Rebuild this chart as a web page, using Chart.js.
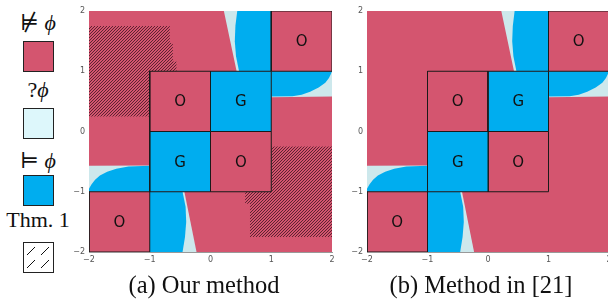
<!DOCTYPE html>
<html>
<head>
<meta charset="utf-8">
<script src="https://cdn.jsdelivr.net/npm/chart.js"></script>
<style>
  html, body { margin: 0; padding: 0; background: #fff; overflow: hidden; }
  body { position: relative; width: 608px; height: 302px; }
  canvas.plot { position: absolute; top: 0; }
  .leg { position: absolute; left: 0; width: 76px; text-align: center; font-family: "Liberation Serif", "DejaVu Serif", serif; font-size: 22px; line-height: 22px; color: #111; }
  .phi { font-style: italic; }
  .sw { position: absolute; left: 23px; width: 29px; height: 29px; border: 1px solid #222; }
  .cap { position: absolute; top: 271px; font-family: "Liberation Serif", "DejaVu Serif", serif; font-size: 24.5px; line-height: 28px; color: #111; white-space: nowrap; transform: translateX(-50%); }
</style>
</head>
<body>
<div class="leg" style="top:12px">⊭ <span class="phi">ϕ</span></div>
<div class="sw" style="top:41px;background:#d4556f"></div>
<div class="leg" style="top:79px">?<span class="phi">ϕ</span></div>
<div class="sw" style="top:108px;background:#ddf7fb"></div>
<div class="leg" style="top:150px">⊨ <span class="phi">ϕ</span></div>
<div class="sw" style="top:175px;background:#00adef"></div>
<div class="leg" style="top:209px">Thm. 1</div>
<div class="sw" style="top:242px;background:#fff">
  <svg width="29" height="29" style="position:absolute;left:0;top:0">
    <g stroke="#111" stroke-width="1">
      <line x1="3" y1="12" x2="11" y2="4"/><line x1="17" y1="12" x2="25" y2="4"/>
      <line x1="3" y1="25" x2="11" y2="17"/><line x1="17" y1="25" x2="25" y2="17"/>
    </g>
  </svg>
</div>

<canvas id="chartA" class="plot" width="268" height="272" style="left:70px"></canvas>
<canvas id="chartB" class="plot" width="267" height="272" style="left:348px"></canvas>

<div class="cap" style="left:204px">(a) Our method</div>
<div class="cap" style="left:481px">(b) Method in [21]</div>

<script>
const RED = '#d4556f', BLUE = '#00adef', CYAN = '#cde8ec';

const axisTicks = [-2, -1, 0, 1, 2];
const fullSquare = [[-2, -2], [2, -2], [2, 2], [-2, 2]];

// unit boxes, lower-left corners
const oBoxes = [[1, 1], [-1, 0], [0, -1], [-2, -2]];
const gBoxes = [[0, 0], [-1, -1]];

// undecided slivers (light cyan) and satisfied regions (blue)
const topCyan = [[0.22, 2], [1, 2], [1, 1], [0.43, 1]];
const topBlue = [[0.44, 2], [0.41, 1.75], [0.40, 1.5], [0.42, 1.25], [0.47, 1], [1, 1], [1, 2]];
const rightCyan = [[1, 1], [1, 0.57], [2, 0.58], [2, 1]];
const rightBlue = [[1, 1], [1, 0.58], [1.35, 0.585], [1.5, 0.61], [1.64, 0.66], [1.78, 0.73],
                   [1.89, 0.81], [1.95, 0.89], [1.98, 0.95], [2, 1]];
const leftCyan = [[-1, -1], [-1, -0.565], [-2, -0.57], [-2, -1]];
const leftBlue = [[-1, -1], [-1, -0.57], [-1.35, -0.58], [-1.55, -0.62], [-1.7, -0.67], [-1.82, -0.73],
                  [-1.9, -0.8], [-1.96, -0.88], [-2, -0.95], [-2, -1]];
const bottomCyan = [[-1, -1], [-0.43, -1], [-0.23, -2], [-1, -2]];
const bottomBlue = [[-1, -1], [-0.46, -1], [-0.41, -1.25], [-0.40, -1.5], [-0.42, -1.75], [-0.46, -2], [-1, -2]];

// Thm. 1 hatched regions (left plot only)
const hatchTopLeft = [[-2, 1.75], [-0.67, 1.75], [-0.67, 1.47], [-0.62, 1.47], [-0.62, 1.16],
                      [-0.56, 1.16], [-0.56, 0.25], [-2, 0.25]];
const hatchBottomRight = [[2, -1.75], [0.65, -1.75], [0.65, -1.2], [0.57, -1.2], [0.57, -0.25], [2, -0.25]];

function hatchPattern() {
  const c = document.createElement('canvas');
  c.width = 3; c.height = 3;
  const g = c.getContext('2d');
  g.strokeStyle = 'rgba(55,20,30,0.85)';
  g.lineWidth = 0.9;
  g.beginPath();
  g.moveTo(-1, 4); g.lineTo(4, -1);
  g.moveTo(-1, 1); g.lineTo(1, -1);
  g.moveTo(2, 4); g.lineTo(4, 2);
  g.stroke();
  return g.createPattern(c, 'repeat');
}

function poly(pts, color, border) {
  const data = pts.map(p => ({x: p[0], y: p[1]}));
  if (border) data.push({x: pts[0][0], y: pts[0][1]});
  return {
    data, showLine: true, fill: 'shape', tension: 0,
    backgroundColor: color,
    borderColor: border || 'rgba(0,0,0,0)',
    borderWidth: border ? 1 : 0,
    pointRadius: 0, pointHoverRadius: 0
  };
}

function box(c) {
  const [x, y] = c;
  return [[x, y], [x + 1, y], [x + 1, y + 1], [x, y + 1]];
}

const boxText = {
  id: 'boxText',
  afterDatasetsDraw(chart) {
    const {ctx, scales: {x, y}} = chart;
    ctx.save();
    ctx.font = '15px "DejaVu Sans"';
    ctx.fillStyle = '#111';
    ctx.textAlign = 'center';
    ctx.textBaseline = 'middle';
    oBoxes.forEach(b => ctx.fillText('O', x.getPixelForValue(b[0] + 0.5), y.getPixelForValue(b[1] + 0.5) + 1));
    gBoxes.forEach(b => ctx.fillText('G', x.getPixelForValue(b[0] + 0.5), y.getPixelForValue(b[1] + 0.5) + 1));
    ctx.restore();
  }
};

function makeChart(id, withHatch) {
  const layers = [
    poly(fullSquare, RED),
    poly(topCyan, CYAN), poly(rightCyan, CYAN), poly(leftCyan, CYAN), poly(bottomCyan, CYAN),
    poly(topBlue, BLUE), poly(rightBlue, BLUE), poly(leftBlue, BLUE), poly(bottomBlue, BLUE)
  ];
  if (withHatch) {
    const pat = hatchPattern();
    layers.push(poly(hatchTopLeft, pat), poly(hatchBottomRight, pat));
  }
  oBoxes.forEach(b => layers.push(poly(box(b), RED, '#1a1a1a')));
  gBoxes.forEach(b => layers.push(poly(box(b), BLUE, '#1a1a1a')));
  layers.forEach((d, i) => { d.order = layers.length - i; });

  const tickOpts = {
    font: {family: 'DejaVu Sans', size: 8},
    color: '#555',
    autoSkip: false,
    callback: v => String(v).replace('-', '\u2212')
  };
  return new Chart(document.getElementById(id), {
    type: 'scatter',
    data: {datasets: layers},
    options: {
      responsive: false,
      animation: false,
      events: [],
      layout: {padding: {top: 11, right: 6, left: 0, bottom: 0}},
      plugins: {legend: {display: false}, tooltip: {enabled: false}},
      scales: {
        x: {
          type: 'linear', min: -2, max: 2,
          afterBuildTicks: s => { s.ticks = axisTicks.map(v => ({value: v})); },
          afterFit: s => { s.height = 20; },
          grid: {display: false, drawTicks: false},
          border: {display: true, color: '#999', width: 1},
          ticks: Object.assign({padding: 3, maxRotation: 0}, tickOpts)
        },
        y: {
          type: 'linear', min: -2, max: 2,
          afterBuildTicks: s => { s.ticks = axisTicks.map(v => ({value: v})); },
          afterFit: s => { s.width = 19; },
          grid: {display: false, drawTicks: false},
          border: {display: true, color: '#999', width: 1},
          ticks: Object.assign({padding: 4}, tickOpts)
        }
      }
    },
    plugins: [boxText]
  });
}

makeChart('chartA', true);
makeChart('chartB', false);
</script>
</body>
</html>
